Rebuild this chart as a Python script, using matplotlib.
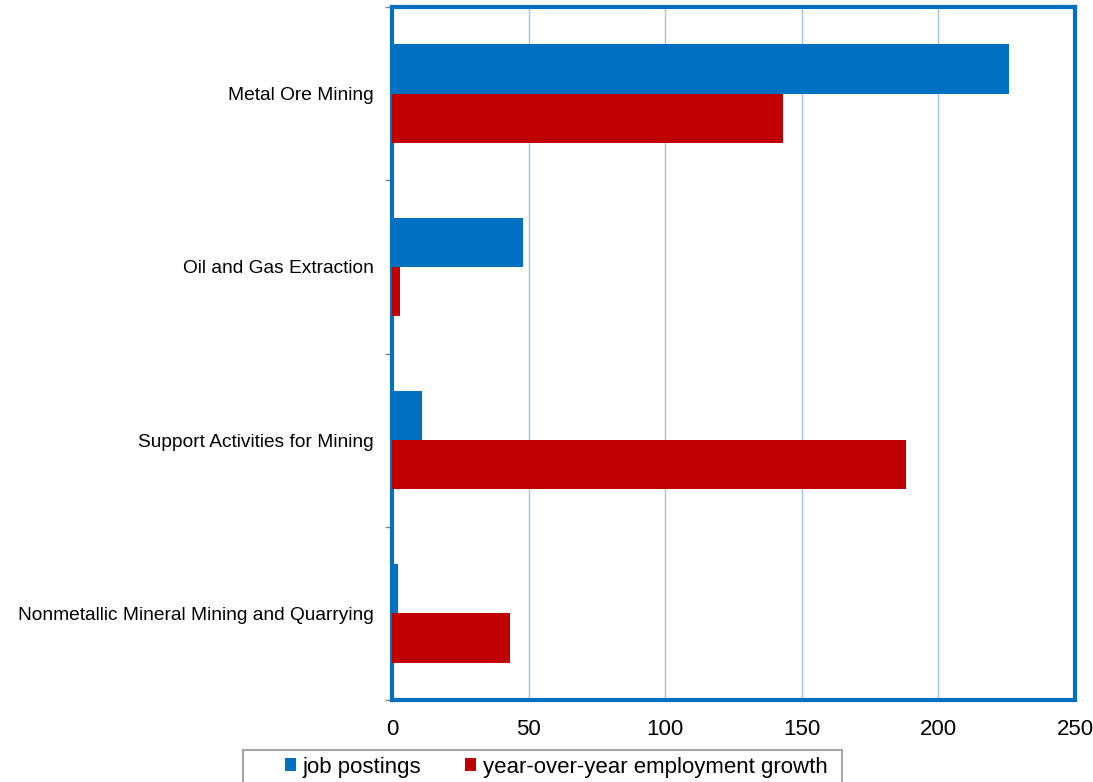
import numpy as np
import matplotlib.pyplot as plt
from matplotlib.patches import Rectangle

plt.rcParams['font.family'] = ['Liberation Sans', 'DejaVu Sans']

# Data
categories = ["Metal Ore Mining", "Oil and Gas Extraction",
              "Support Activities for Mining",
              "Nonmetallic Mineral Mining and Quarrying"]
job_postings = [226, 48, 11, 2]
employment_growth = [143, 3, 188, 43]
x_ticks = [0, 50, 100, 150, 200, 250]

blue = "#0070C0"
red = "#C00000"

fig = plt.figure(figsize=(10.93, 7.82), dpi=100)
ax = fig.add_axes([0.3587, 0.1049, 0.9835 - 0.3587, 0.991 - 0.1049])

y = np.arange(len(categories))[::-1]
h = 0.285
ax.barh(y + h / 2, job_postings, height=h, color=blue, label="job postings", zorder=3)
ax.barh(y - h / 2, employment_growth, height=h, color=red,
        label="year-over-year employment growth", zorder=3)

ax.set_xlim(0, 250)
ax.set_ylim(-0.5, len(categories) - 0.5)
ax.set_xticks(x_ticks)
ax.set_xticklabels([str(t) for t in x_ticks], fontsize=16)
ax.tick_params(axis='x', length=0, pad=14)

# category labels centred, tick marks at the category boundaries
ax.set_yticks(y)
ax.set_yticklabels(categories, fontsize=13.8)
ax.set_yticks(np.arange(len(categories) + 1) - 0.5, minor=True)
ax.tick_params(axis='y', which='major', length=0, pad=13)
ax.tick_params(axis='y', which='minor', length=5, color='#808080', width=1)

ax.grid(axis='x', color='#9DC3E6', linewidth=1, zorder=0)
for s in ax.spines.values():
    s.set_color(blue)
    s.set_linewidth(3)

# legend box runs off the bottom edge, as in the original
W, H = 1093, 782
fig.patches.append(Rectangle((243 / W, -0.02), (842 - 243) / W, (H - 750) / H + 0.02,
                             transform=fig.transFigure, facecolor='white',
                             edgecolor='#A6A6A6', linewidth=1.5))
leg = fig.legend(loc='center left', bbox_to_anchor=(285 / W, 1 - 767 / H), ncol=2,
                 fontsize=16, frameon=False,
                 handlelength=0.5, handleheight=0.5, handletextpad=0.3,
                 columnspacing=1.95, borderpad=0, borderaxespad=0)

fig.savefig("out.png", dpi=100)
